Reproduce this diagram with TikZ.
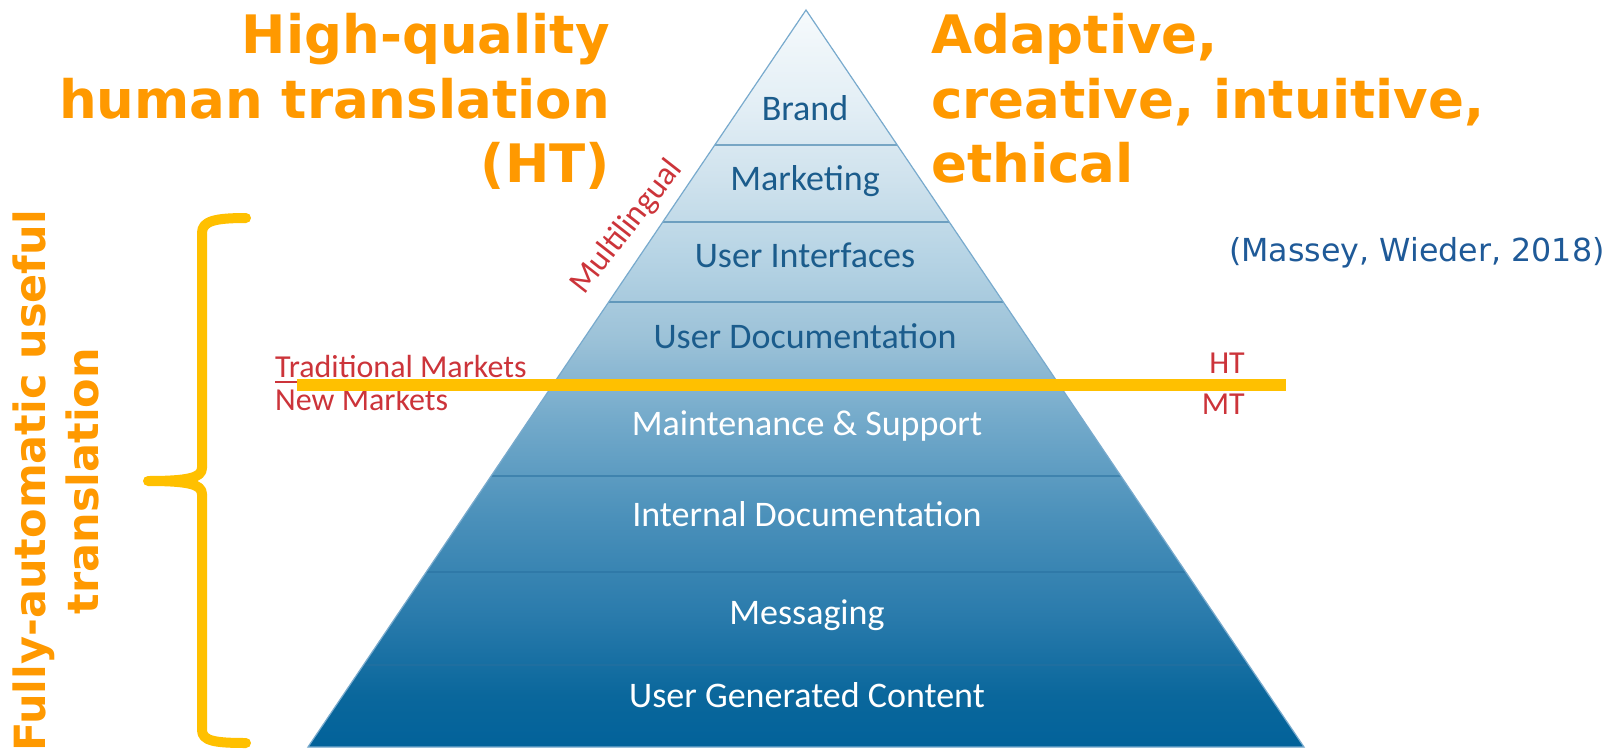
\documentclass[tikz,border=0pt]{standalone}
\usepackage{fontspec}
\setmainfont{Carlito}
\newfontfamily\vfont{DejaVu Sans}
\usetikzlibrary{calc}
\definecolor{p0}{RGB}{2,98,154}
\definecolor{p1}{RGB}{10,103,156}
\definecolor{p2}{RGB}{42,123,172}
\definecolor{p3}{RGB}{74,144,186}
\definecolor{p4}{RGB}{114,169,202}
\definecolor{p5}{RGB}{156,194,216}
\definecolor{p6}{RGB}{181,211,228}
\definecolor{p7}{RGB}{207,226,237}
\definecolor{p8}{RGB}{226,238,245}
\definecolor{p9}{RGB}{246,250,252}
\definecolor{orng}{RGB}{255,153,0}
\definecolor{ylw}{RGB}{255,192,0}
\definecolor{mred}{RGB}{204,52,58}
\definecolor{dblue}{RGB}{27,92,140}
\definecolor{cblue}{RGB}{31,90,152}
\definecolor{edgeblue}{RGB}{120,170,205}
\definecolor{lineblue}{RGB}{40,112,160}
\pgfdeclareverticalshading{pyr}{100bp}{color(0bp)=(p0); color(25bp)=(p0); color(28.5bp)=(p1); color(34bp)=(p2); color(40.5bp)=(p3); color(47bp)=(p4); color(52.75bp)=(p5); color(58bp)=(p6); color(63.5bp)=(p7); color(68.3bp)=(p8); color(75bp)=(p9); color(100bp)=(p9)}
\tikzset{
  title/.style={text=orng, font=\vfont\bfseries\fontsize{53}{64}\selectfont, inner sep=0pt},
  vtitle/.style={text=orng, font=\vfont\bfseries\fontsize{43}{52}\selectfont, inner sep=0pt, rotate=90, anchor=base},
  layerdark/.style={text=dblue, font=\fontsize{36}{40}\selectfont, inner sep=0pt, anchor=base},
  layerlight/.style={text=white, font=\fontsize{36}{40}\selectfont, inner sep=0pt, anchor=base},
  redlabel/.style={text=mred, font=\fontsize{32}{36}\selectfont, inner sep=0pt},
  bandline/.style={draw=lineblue, draw opacity=0.55, line width=1.3pt},
  edgeline/.style={draw=edgeblue, line width=1.2pt, line join=miter},
  ylwline/.style={draw=ylw, line width=12pt},
  bracestyle/.style={draw=ylw, line width=10pt, line cap=round, line join=round}
}
\begin{document}
\begin{tikzpicture}[x=1pt,y=-1pt]
\useasboundingbox (0,0) rectangle (1624,749);
\fill[white] (0,0) rectangle (1624,749);
% pyramid
\coordinate (apex) at (806,10);
\coordinate (bl) at (308,747);
\coordinate (br) at (1304,747);
\shade[shading=pyr] (apex) -- (br) -- (bl) -- cycle;
\foreach \yy in {145,222,302,383,476,572,665} {
  \draw[bandline] ($(apex)!{(\yy-10)/737}!(bl)$) -- ($(apex)!{(\yy-10)/737}!(br)$);
}
\draw[edgeline] (apex) -- (br) -- (bl) -- cycle;
% layer labels
\node[layerdark] (brand) at (805,121) {Brand};
\node[layerdark] (mkt) at (805,190) {Marketing};
\node[layerdark] (ui) at (805,267) {User Interfaces};
\node[layerdark] (ud) at (805,348) {User Documentation};
\node[layerlight] (ms) at (807,435) {Maintenance \& Support};
\node[layerlight] (id) at (807,526) {Internal Documentation};
\node[layerlight] (msg) at (807,624) {Messaging};
\node[layerlight] (ugc) at (807,707) {User Generated Content};
% multilingual
\node[redlabel, font=\fontsize{33}{36}\selectfont, rotate=52] (multi) at (627,227) {Multilingual};
% market labels
\node[redlabel, anchor=base west] (trad) at (275,377) {Traditional Markets};
\node[redlabel, anchor=base west] (newm) at (275,410) {New Markets};
\draw[mred, line width=1.5pt] (trad.base west) ++(0,5) coordinate (ul1) -- ++(250,0) coordinate (ul2);
\node[redlabel, anchor=base east] (ht) at (1245,373) {HT};
\node[redlabel, anchor=base east] (mt) at (1245,414) {MT};
% yellow divider
\coordinate (yl) at (297,385);
\coordinate (yr) at (1286,385);
\draw[ylwline] (yl) -- (yr);
% titles
\node[title, anchor=base east] (l1) at (610,54) {High-quality};
\node[title, anchor=base east] (l2) at (610,118) {human translation};
\node[title, anchor=base east] (l3) at (610,182) {(HT)};
\node[title, anchor=base west] (r1) at (931,54) {Adaptive,};
\node[title, anchor=base west] (r2) at (931,118) {creative, intuitive,};
\node[title, anchor=base west] (r3) at (931,182) {ethical};
% citation
\node[text=cblue, font=\vfont\fontsize{31.7}{36}\selectfont, inner sep=0pt, anchor=base west] (cite) at (1229,261) {(Massey, Wieder, 2018)};
% vertical text
\node[vtitle] (v1) at (45,481) {Fully-automatic useful};
\node[vtitle] (v2) at (98,481) {translation};
% brace
\draw[bracestyle] (246,218) .. controls (215,218) and (202,221) .. (202,233)
  -- (202,468) .. controls (202,478) and (187,481) .. (148,481)
  .. controls (187,481) and (202,484) .. (202,494)
  -- (202,730) .. controls (202,741) and (215,743) .. (246,743);
\end{tikzpicture}
\end{document}
